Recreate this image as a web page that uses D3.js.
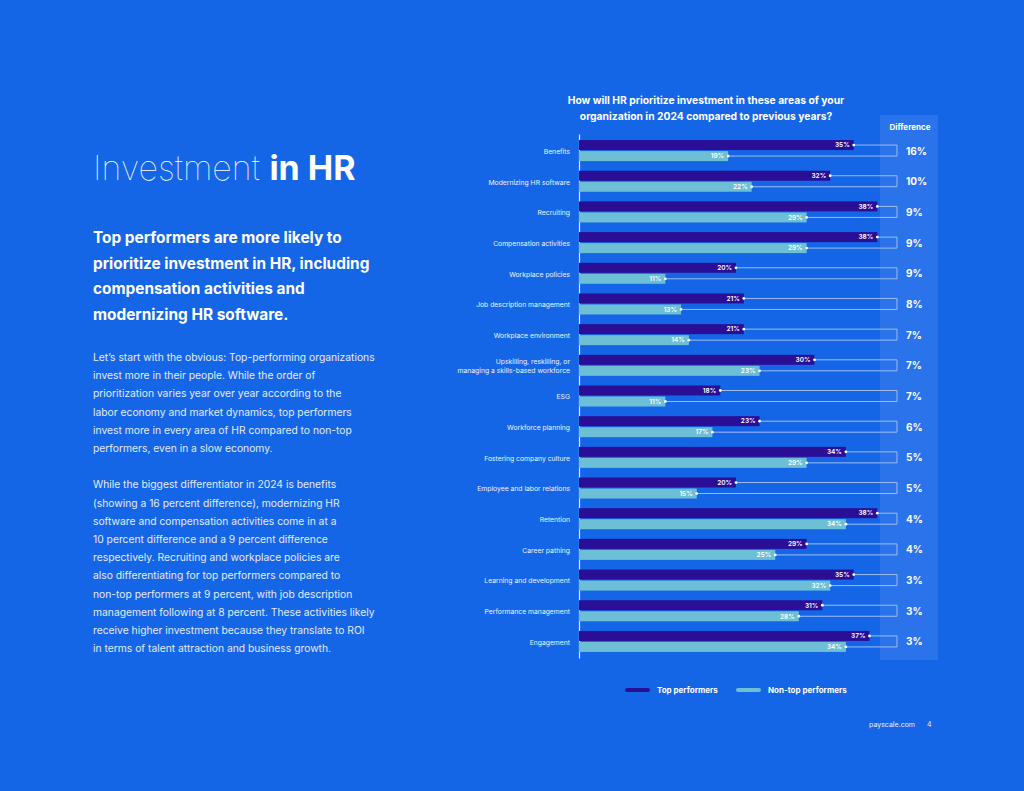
<!DOCTYPE html>
<html>
<head>
<meta charset="utf-8">
<script src="https://cdn.jsdelivr.net/npm/d3@7"></script>
<style>
  html, body { margin: 0; padding: 0; background: #1466e6; }
  svg { display: block; font-family: Inter, "Noto Sans", sans-serif; }
</style>
</head>
<body>
<svg id="page" width="1024" height="791"></svg>
<script>
// Chart data
const categories = [
  "Benefits", "Modernizing HR software", "Recruiting", "Compensation activities",
  "Workplace policies", "Job description management", "Workplace environment",
  "Upskilling, reskilling, or|managing a skills-based workforce", "ESG",
  "Workforce planning", "Fostering company culture", "Employee and labor relations",
  "Retention", "Career pathing", "Learning and development",
  "Performance management", "Engagement"
];
const topPerformers = [35, 32, 38, 38, 20, 21, 21, 30, 18, 23, 34, 20, 38, 29, 35, 31, 37];
const nonTopPerformers = [19, 22, 29, 29, 11, 13, 14, 23, 11, 17, 29, 15, 34, 25, 32, 28, 34];
const differences = [16, 10, 9, 9, 9, 8, 7, 7, 7, 6, 5, 5, 4, 4, 3, 3, 3];
const seriesNames = ["Top performers", "Non-top performers"];

const titleLines = [
  "How will HR prioritize investment in these areas of your",
  "organization in 2024 compared to previous years?"
];
const subtitleLines = [
  "Top performers are more likely to",
  "prioritize investment in HR, including",
  "compensation activities and",
  "modernizing HR software."
];
const bodyLines = [
  "Let\u2019s start with the obvious: Top-performing organizations",
  "invest more in their people. While the order of",
  "prioritization varies year over year according to the",
  "labor economy and market dynamics, top performers",
  "invest more in every area of HR compared to non-top",
  "performers, even in a slow economy.",
  "",
  "While the biggest differentiator in 2024 is benefits",
  "(showing a 16 percent difference), modernizing HR",
  "software and compensation activities come in at a",
  "10 percent difference and a 9 percent difference",
  "respectively. Recruiting and workplace policies are",
  "also differentiating for top performers compared to",
  "non-top performers at 9 percent, with job description",
  "management following at 8 percent. These activities likely",
  "receive higher investment because they translate to ROI",
  "in terms of talent attraction and business growth."
];

const colors = { top: "#2a0f96", non: "#6cbfd5", link: "#9dbdf3", diffBg: "#2a73ea" };

const data = categories.map((c, i) => ({
  cat: c, top: topPerformers[i], non: nonTopPerformers[i], diff: differences[i]
}));

const svg = d3.select("#page");

// Left column text
const heading = svg.append("text")
  .attr("x", 93).attr("y", 180)
  .attr("fill", "#fff").attr("font-size", 34);
heading.append("tspan").attr("font-weight", 100).text("Investment ");
heading.append("tspan").attr("font-weight", 700).text("in HR");

svg.append("g").selectAll("text")
  .data(subtitleLines)
  .join("text")
  .attr("x", 93)
  .attr("y", (d, i) => 243 + i * 25.7)
  .attr("fill", "#fff")
  .attr("font-size", 15.4)
  .attr("font-weight", 700)
  .text((d) => d);

svg.append("g").selectAll("text")
  .data(bodyLines)
  .join("text")
  .attr("x", 93)
  .attr("y", (d, i) => 361 + i * 18.2)
  .attr("fill", "#e3ebfb")
  .attr("font-size", 10.3)
  .text((d) => d);

// Chart title
svg.append("g").selectAll("text")
  .data(titleLines)
  .join("text")
  .attr("x", 706)
  .attr("y", (d, i) => 104 + i * 16)
  .attr("text-anchor", "middle")
  .attr("fill", "#fff")
  .attr("font-size", 10.3)
  .attr("font-weight", 700)
  .text((d) => d);

// Scales
const y = d3.scaleBand()
  .domain(categories)
  .range([134, 658])
  .paddingOuter(0.04);

const x = d3.scaleLinear()
  .domain([0, 40])
  .range([579, 893]);

const barH = 10;
const diffX = 897;

// Difference column background
svg.append("rect")
  .attr("x", 880).attr("y", 115)
  .attr("width", 58).attr("height", 545)
  .attr("fill", colors.diffBg);

svg.append("text")
  .attr("x", 910).attr("y", 130)
  .attr("text-anchor", "middle")
  .attr("fill", "#fff")
  .attr("font-size", 8)
  .attr("font-weight", 700)
  .text("Difference");

// Axis with category labels
const axis = svg.append("g")
  .attr("transform", `translate(${x(0)},0)`)
  .call(d3.axisLeft(y).tickSize(0).tickPadding(9).tickFormat(() => ""));
axis.select(".domain").attr("stroke", "#dfe8fb").attr("stroke-width", 1.2);

axis.selectAll(".tick text").each(function (d) {
  const parts = d.split("|");
  const t = d3.select(this)
    .attr("fill", "#eef3fd")
    .attr("font-size", 6.8)
    .attr("font-family", "Inter, sans-serif")
    .attr("dy", null);
  parts.forEach((p, i) => {
    t.append("tspan")
      .attr("x", -9)
      .attr("y", (i - (parts.length - 1) / 2) * 9.5 + 1.2)
      .attr("dy", "0.32em")
      .text(p);
  });
});

const groups = svg.append("g").selectAll("g")
  .data(data)
  .join("g")
  .attr("transform", (d) => `translate(0,${y(d.cat) + y.bandwidth() / 2})`);

// Bracket connectors
groups.append("path")
  .attr("fill", "none")
  .attr("stroke", colors.link)
  .attr("stroke-width", 1)
  .attr("d", (d) => `M${x(d.top)},${-barH / 2 - 0.5}H${diffX}V${barH / 2 + 0.5}H${x(d.non)}`);

// Bars
groups.append("rect")
  .attr("x", x(0)).attr("y", -barH - 0.5)
  .attr("width", (d) => x(d.top) - x(0))
  .attr("height", barH)
  .attr("fill", colors.top);

groups.append("rect")
  .attr("x", x(0)).attr("y", 0.5)
  .attr("width", (d) => x(d.non) - x(0))
  .attr("height", barH)
  .attr("fill", colors.non);

// End dots
groups.append("circle")
  .attr("cx", (d) => x(d.top)).attr("cy", -barH / 2 - 0.5)
  .attr("r", 1.4).attr("fill", "#fff");
groups.append("circle")
  .attr("cx", (d) => x(d.non)).attr("cy", barH / 2 + 0.5)
  .attr("r", 1.4).attr("fill", "#fff");

// Value labels
groups.append("text")
  .attr("x", (d) => x(d.top) - 4)
  .attr("y", -barH / 2 - 0.5)
  .attr("dy", "0.35em")
  .attr("text-anchor", "end")
  .attr("fill", "#fff")
  .attr("font-size", 6.5)
  .attr("font-weight", 600)
  .text((d) => d.top + "%");

groups.append("text")
  .attr("x", (d) => x(d.non) - 4)
  .attr("y", barH / 2 + 0.5)
  .attr("dy", "0.35em")
  .attr("text-anchor", "end")
  .attr("fill", "#fff")
  .attr("font-size", 6.5)
  .attr("font-weight", 600)
  .text((d) => d.non + "%");

// Difference values
groups.append("text")
  .attr("x", 906)
  .attr("y", 0.5)
  .attr("dy", "0.35em")
  .attr("fill", "#fff")
  .attr("font-size", 10)
  .attr("font-weight", 700)
  .text((d) => d.diff + "%");

// Legend
const legendItems = [
  { name: seriesNames[0], color: colors.top, x: 627, tx: 657 },
  { name: seriesNames[1], color: colors.non, x: 738, tx: 768 }
];
const legend = svg.append("g").selectAll("g")
  .data(legendItems)
  .join("g");
legend.append("line")
  .attr("x1", (d) => d.x).attr("x2", (d) => d.x + 21)
  .attr("y1", 690).attr("y2", 690)
  .attr("stroke", (d) => d.color)
  .attr("stroke-width", 4)
  .attr("stroke-linecap", "round");
legend.append("text")
  .attr("x", (d) => d.tx).attr("y", 690)
  .attr("dy", "0.35em")
  .attr("fill", "#fff")
  .attr("font-size", 8)
  .attr("font-weight", 700)
  .text((d) => d.name);

// Footer
svg.append("text")
  .attr("x", 915).attr("y", 727)
  .attr("text-anchor", "end")
  .attr("fill", "#e8effc")
  .attr("font-size", 7)
  .text("payscale.com");
svg.append("text")
  .attr("x", 927).attr("y", 727)
  .attr("fill", "#e8effc")
  .attr("font-size", 7)
  .text("4");
</script>
</body>
</html>
